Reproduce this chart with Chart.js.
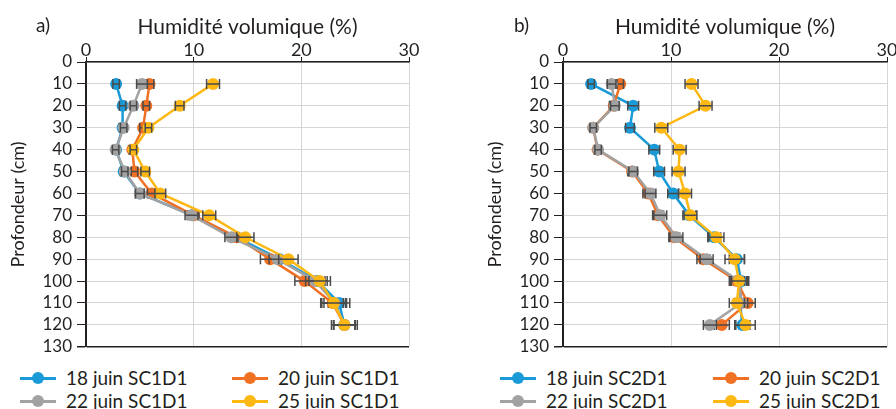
<!DOCTYPE html>
<html><head><meta charset="utf-8">
<script src="https://cdn.jsdelivr.net/npm/chart.js@4.4.1/dist/chart.umd.min.js"></script>
<style>
body{margin:0;background:#fff;width:896px;height:409px;overflow:hidden;position:relative;font-family:Lato,sans-serif;color:#231f20}
.wrap{position:absolute;top:0;width:448px;height:362px}
.wrap canvas{display:block}
.lab{position:absolute;font-size:19px;top:13px;line-height:24px}
.item{position:absolute;height:22px;font-size:19px;line-height:22px;white-space:nowrap}
.item .ln{position:absolute;left:0;top:9.5px;width:36px;height:3px}
.item .dot{position:absolute;left:12px;top:5px;width:12px;height:12px;border-radius:50%}
.item .tx{position:absolute;left:46px;top:0}
</style></head>
<body>
<div class="wrap" style="left:0"><canvas id="ca" width="448" height="362"></canvas></div>
<div class="wrap" style="left:448px"><canvas id="cb" width="448" height="362"></canvas></div>
<div class="lab" style="left:36px">a)</div>
<div class="lab" style="left:514px">b)</div>
<div id="legend"></div>
<script>
// ---- data ----
const depths = [10,20,30,40,50,60,70,80,90,100,110,120];
const xTickValues = [0,10,20,30];
const yTickValues = [0,10,20,30,40,50,60,70,80,90,100,110,120,130];
const seriesNamesA = ['18 juin SC1D1','20 juin SC1D1','22 juin SC1D1','25 juin SC1D1'];
const seriesNamesB = ['18 juin SC2D1','20 juin SC2D1','22 juin SC2D1','25 juin SC2D1'];
const colors = ['#1a9bd7','#f07124','#a2a2a2','#fdb814'];

// panel a) values (% vol.)
const a18 = [2.8,3.4,3.4,2.8,3.5,5.0,9.9,14.0,18.0,21.5,23.5,24.0];
const a20 = [5.9,5.6,5.3,4.3,4.5,6.1,10.0,14.0,17.1,20.3,22.9,24.0];
const a22 = [5.2,4.4,3.5,2.75,3.6,5.0,9.8,13.5,17.8,21.3,23.1,24.0];
const a25 = [11.8,8.7,5.8,4.4,5.5,6.9,11.45,14.8,18.8,21.7,23.0,24.0];
// panel a) error (+/-)
const ea18 = [0.3,0.3,0.3,0.3,0.3,0.4,0.5,0.6,0.8,0.9,1.0,1.0];
const ea20 = [0.4,0.3,0.3,0.3,0.3,0.4,0.5,0.6,0.9,0.9,1.0,1.0];
const ea22 = [0.5,0.3,0.3,0.3,0.3,0.4,0.6,0.6,0.8,0.9,1.0,1.0];
const ea25 = [0.6,0.4,0.3,0.3,0.4,0.5,0.6,0.8,0.9,1.0,1.2,1.2];

// panel b) values (% vol.)
const b18 = [2.6,6.5,6.2,8.45,8.9,10.2,11.7,14.0,16.1,16.5,16.4,16.6];
const b20 = [5.3,4.7,2.8,3.2,6.4,7.9,8.8,10.3,13.0,16.1,17.1,14.7];
const b22 = [4.5,4.8,2.8,3.25,6.5,8.1,9.0,10.5,13.3,16.3,16.5,13.6];
const b25 = [11.9,13.2,9.1,10.8,10.7,11.3,11.8,14.2,15.9,16.3,16.1,16.9];
// panel b) error (+/-)
const eb18 = [0.3,0.5,0.4,0.5,0.5,0.5,0.6,0.6,0.7,0.7,0.6,0.7];
const eb20 = [0.3,0.4,0.3,0.3,0.4,0.5,0.5,0.5,0.6,0.7,0.7,0.7];
const eb22 = [0.4,0.4,0.3,0.3,0.4,0.5,0.6,0.6,0.6,0.7,0.6,0.6];
const eb25 = [0.6,0.6,0.6,0.6,0.6,0.6,0.6,0.7,0.9,0.8,0.7,0.9];

const TXT = '#231f20';
const FONT = 'Lato, sans-serif';

const errPlugin = {
  id: 'errbars',
  afterDatasetDraw(chart, args) {
    const ds = chart.data.datasets[args.index];
    const meta = args.meta;
    const xs = chart.scales.x;
    const ctx = chart.ctx;
    ctx.save();
    ctx.strokeStyle = '#4a4a4a';
    ctx.lineWidth = 1.5;
    ds.data.forEach((p, j) => {
      const e = ds.err[j];
      const y = meta.data[j].y;
      const x1 = xs.getPixelForValue(p.x - e), x2 = xs.getPixelForValue(p.x + e);
      ctx.beginPath();
      ctx.moveTo(x1, y); ctx.lineTo(x2, y);
      ctx.moveTo(x1, y - 5); ctx.lineTo(x1, y + 5);
      ctx.moveTo(x2, y - 5); ctx.lineTo(x2, y + 5);
      ctx.stroke();
    });
    ctx.restore();
  }
};

function makeChart(id, names, vals, errs, padLeft, padRight) {
  const orders = [4, 3, 2, 1];
  const datasets = vals.map((v, i) => ({
    label: names[i],
    data: v.map((x, k) => ({x: x, y: depths[k]})),
    err: errs[i],
    borderColor: colors[i],
    backgroundColor: colors[i],
    borderWidth: 2.5,
    pointRadius: 6,
    pointHoverRadius: 6,
    pointBorderWidth: 0,
    showLine: true,
    tension: 0,
    order: orders[i]
  }));
  return new Chart(document.getElementById(id), {
    type: 'scatter',
    data: {datasets},
    plugins: [errPlugin],
    options: {
      responsive: false,
      animation: false,
      events: [],
      layout: {padding: {left: padLeft, right: padRight, top: 0, bottom: 11}},
      plugins: {legend: {display: false}, tooltip: {enabled: false}},
      scales: {
        x: {
          type: 'linear', position: 'top', min: 0, max: 30,
          afterBuildTicks: s => { s.ticks = xTickValues.map(v => ({value: v})); },
          afterFit: s => { s.height = 62; },
          ticks: {color: TXT, font: {family: FONT, size: 18}, padding: -4, autoSkip: false, maxRotation: 0},
          title: {display: true, text: 'Humidité volumique (%)', color: TXT, font: {family: FONT, size: 21}, padding: {top: 15, bottom: 0}},
          grid: {color: c => (c.tick && c.tick.value === 0) ? TXT : '#d6d6d6', lineWidth: 1, tickColor: TXT, tickLength: 5},
          border: {color: TXT, width: 1.5}
        },
        y: {
          type: 'linear', reverse: true, min: 0, max: 130,
          afterBuildTicks: s => { s.ticks = yTickValues.map(v => ({value: v})); },
          afterFit: s => { s.width = 86; },
          ticks: {color: TXT, font: {family: FONT, size: 17}, padding: 5, autoSkip: false},
          title: {display: true, text: 'Profondeur (cm)', color: TXT, font: {family: FONT, size: 18}, padding: {top: 7, bottom: 0}},
          grid: {color: c => (c.tick && c.tick.value === 130) ? TXT : '#d6d6d6', lineWidth: c => (c.tick && c.tick.value === 130) ? 1.5 : 1, tickColor: TXT, tickLength: 9},
          border: {color: TXT, width: 1.5}
        }
      }
    }
  });
}

makeChart('ca', seriesNamesA, [a18, a20, a22, a25], [ea18, ea20, ea22, ea25], 0, 39);
makeChart('cb', seriesNamesB, [b18, b20, b22, b25], [eb18, eb20, eb22, eb25], 29, 9);

// legends
const legPos = [
  {names: seriesNamesA, cols: [20, 232]},
  {names: seriesNamesB, cols: [500, 713]}
];
const rows = [367, 390];
const leg = document.getElementById('legend');
legPos.forEach(p => {
  p.names.forEach((n, i) => {
    const d = document.createElement('div');
    d.className = 'item';
    d.style.left = p.cols[i % 2] + 'px';
    d.style.top = rows[Math.floor(i / 2)] + 'px';
    d.innerHTML = '<div class="ln" style="background:' + colors[i] + '"></div><div class="dot" style="background:' + colors[i] + '"></div><span class="tx">' + n + '</span>';
    leg.appendChild(d);
  });
});
</script>
</body></html>
